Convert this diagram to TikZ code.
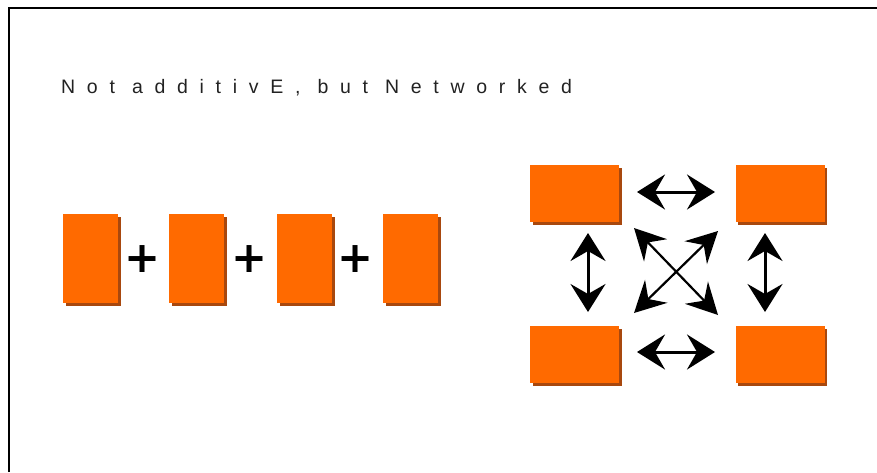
\documentclass[tikz,border=0pt]{standalone}
\usepackage{fontspec}
\setmainfont{Liberation Sans}
\newfontfamily\plusfont{DejaVu Sans}
\usetikzlibrary{arrows.meta,shadows}
\definecolor{blockfill}{HTML}{FF6A00}
\definecolor{blockshade}{HTML}{A8480E}
\definecolor{titleink}{HTML}{222222}
\tikzset{
  heavyhead/.tip={Stealth[length=28pt, width=35pt, inset=10pt]},
  diaghead/.tip={Stealth[length=31pt, width=32pt, inset=11pt]},
  frameline/.style={line width=2.4pt, black},
  blockbox/.style={fill=blockfill, draw=none, inner sep=0pt,
    drop shadow={shadow xshift=2.5pt, shadow yshift=-2.5pt, fill=blockshade, opacity=1}},
  tallblock/.style={blockbox, minimum width=55pt, minimum height=89pt},
  wideblock/.style={blockbox, minimum width=89pt, minimum height=57pt},
  plussign/.style={inner sep=0pt, font=\plusfont\bfseries\fontsize{43}{43}\selectfont},
  linkarrow/.style={line width=3pt, black, heavyhead-heavyhead},
  diagarrow/.style={line width=2.2pt, black, diaghead-diaghead}
}
\begin{document}
\begin{tikzpicture}[x=1pt, y=-1pt]
  \useasboundingbox (0,0) rectangle (877,472);
  % open frame: top and left edges
  \coordinate (fbl) at (9,472);
  \coordinate (ftl) at (9,8);
  \coordinate (ftr) at (877,8);
  \draw[frameline] (fbl) -- (ftl) -- (ftr);

  % title with wide tracking
  \node[anchor=base west, inner sep=0pt, text=titleink,
        font=\fontsize{19.5}{19.5}\selectfont\addfontfeature{LetterSpace=60}]
        (title) at (61,93) {Not additivE, but Networked};

  % additive row
  \node[tallblock] (a1) at (90.5,258.5) {};
  \node[tallblock] (a2) at (196.5,258.5) {};
  \node[tallblock] (a3) at (304.5,258.5) {};
  \node[tallblock] (a4) at (410.5,258.5) {};
  \node[plussign] (p1) at (143,259) {+};
  \node[plussign] (p2) at (249.5,259) {+};
  \node[plussign] (p3) at (356,259) {+};

  % networked square
  \node[wideblock] (tl) at (574.5,193.5) {};
  \node[wideblock] (tr) at (780,193.5) {};
  \node[wideblock] (bl) at (574.5,354.5) {};
  \node[wideblock] (br) at (780,354.5) {};

  \coordinate (ht1) at (637,192);  \coordinate (ht2) at (715,192);
  \coordinate (hb1) at (637,352);  \coordinate (hb2) at (715,352);
  \coordinate (vl1) at (588,233);  \coordinate (vl2) at (588,312);
  \coordinate (vr1) at (765,233);  \coordinate (vr2) at (765,312);
  \coordinate (d1) at (634,228);   \coordinate (d2) at (718,315);
  \coordinate (d3) at (718,231);   \coordinate (d4) at (634,313);

  \draw[linkarrow] (ht1) -- (ht2);
  \draw[linkarrow] (hb1) -- (hb2);
  \draw[linkarrow] (vl1) -- (vl2);
  \draw[linkarrow] (vr1) -- (vr2);
  \draw[diagarrow] (d1) -- (d2);
  \draw[diagarrow] (d3) -- (d4);
\end{tikzpicture}
\end{document}
